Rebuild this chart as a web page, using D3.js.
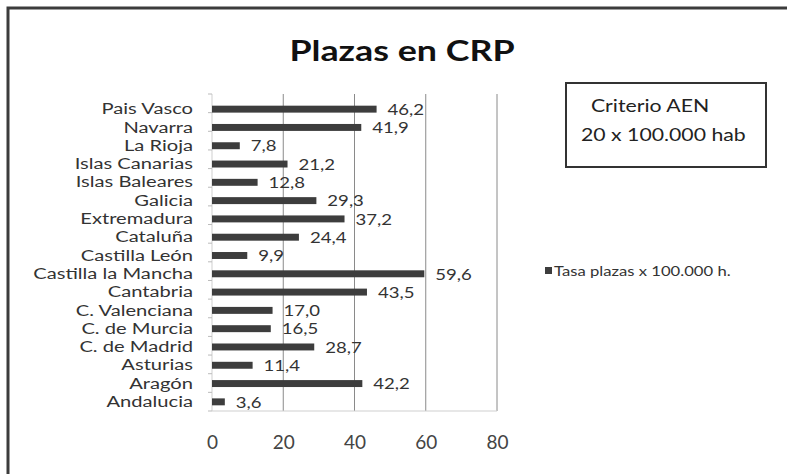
<!DOCTYPE html>
<html lang="es">
<head>
<meta charset="UTF-8">
<title>Plazas en CRP</title>
<script src="https://d3js.org/d3.v7.min.js"></script>
<style>
  body { margin: 0; background: #fff; }
  svg { display: block; font-family: Lato, "Open Sans", sans-serif; }
</style>
</head>
<body>
<script>
// datos
const regions = ["Pais Vasco", "Navarra", "La Rioja", "Islas Canarias", "Islas Baleares",
  "Galicia", "Extremadura", "Cataluña", "Castilla León", "Castilla la Mancha", "Cantabria",
  "C. Valenciana", "C. de Murcia", "C. de Madrid", "Asturias", "Aragón", "Andalucia"];
const rates = [46.2, 41.9, 7.8, 21.2, 12.8, 29.3, 37.2, 24.4, 9.9, 59.6, 43.5,
  17.0, 16.5, 28.7, 11.4, 42.2, 3.6];
const xTicks = [0, 20, 40, 60, 80];
const seriesName = "Tasa plazas x 100.000 h.";
const noteLines = ["Criterio AEN", "20 x 100.000 hab"];

const width = 787, height = 474;
const plot = { left: 212, right: 497, top: 100, bottom: 411 };

const svg = d3.select("body").append("svg")
  .attr("width", width).attr("height", height);

// texto estirado en horizontal (la imagen original está ensanchada)
function stretch(sel, sx) {
  sel.each(function () {
    const t = d3.select(this);
    const x0 = +t.attr("x") || 0;
    t.attr("x", x0 / sx).attr("transform", `scale(${sx},1)`);
  });
}

// marco exterior
svg.append("path")
  .attr("d", `M8,${height} V8 H${width}`)
  .attr("fill", "none").attr("stroke", "#3c3c3c").attr("stroke-width", 3);

// título
svg.append("text")
  .attr("x", 402).attr("y", 61)
  .attr("text-anchor", "middle")
  .attr("font-size", 28).attr("font-weight", "bold").attr("fill", "#111")
  .text("Plazas en CRP")
  .call(stretch, 1.28);

const x = d3.scaleLinear().domain([0, 80]).range([plot.left, plot.right]);
const y = d3.scaleBand().domain(regions).range([plot.top, plot.bottom]).paddingInner(0.62).paddingOuter(0.31);

// rejilla
svg.append("g").selectAll("line")
  .data(xTicks.slice(1))
  .join("line")
  .attr("x1", d => x(d)).attr("x2", d => x(d))
  .attr("y1", plot.top - 6).attr("y2", plot.bottom)
  .attr("stroke", "#8a8a8a").attr("stroke-width", 1);

// ejes (líneas)
svg.append("line")
  .attr("x1", plot.left).attr("x2", plot.right)
  .attr("y1", plot.bottom).attr("y2", plot.bottom)
  .attr("stroke", "#cfcfcf");
svg.append("line")
  .attr("x1", plot.left).attr("x2", plot.left)
  .attr("y1", plot.top - 6).attr("y2", plot.bottom)
  .attr("stroke", "#cfcfcf");

// marcas entre categorías
const tickStep = (plot.bottom - plot.top + 6) / regions.length;
svg.append("g").selectAll("line")
  .data(d3.range(regions.length + 1))
  .join("line")
  .attr("x1", plot.left - 4).attr("x2", plot.left)
  .attr("y1", i => plot.top - 6 + i * tickStep)
  .attr("y2", i => plot.top - 6 + i * tickStep)
  .attr("stroke", "#bbb");

// etiquetas eje X
const xAxis = svg.append("g")
  .attr("transform", `translate(0,${plot.bottom})`)
  .call(d3.axisBottom(x).tickValues(xTicks).tickSize(0).tickPadding(25).tickFormat(d3.format("d")));
xAxis.select(".domain").remove();
xAxis.selectAll("text")
  .attr("font-size", 19).attr("fill", "#444")
  .attr("font-family", "Lato, 'Open Sans', sans-serif");

// etiquetas de categorías
const yAxis = svg.append("g")
  .attr("transform", `translate(${plot.left},0)`)
  .call(d3.axisLeft(y).tickSize(0).tickPadding(19));
yAxis.select(".domain").remove();
yAxis.selectAll("text")
  .attr("font-size", 16).attr("fill", "#333")
  .attr("font-family", "Lato, 'Open Sans', sans-serif")
  .call(stretch, 1.26);

// barras
svg.append("g").selectAll("rect")
  .data(regions)
  .join("rect")
  .attr("x", x(0))
  .attr("y", d => y(d))
  .attr("width", (d, i) => x(rates[i]) - x(0))
  .attr("height", y.bandwidth())
  .attr("fill", "#3d3d3d");

// valores
const fmt = v => v.toFixed(1).replace(".", ",");
svg.append("g").selectAll("text")
  .data(regions)
  .join("text")
  .attr("x", (d, i) => x(rates[i]) + 11)
  .attr("y", d => y(d) + y.bandwidth() / 2)
  .attr("dy", "0.36em")
  .attr("font-size", 16).attr("fill", "#333")
  .text((d, i) => fmt(rates[i]))
  .call(stretch, 1.16);

// leyenda
svg.append("rect")
  .attr("x", 545).attr("y", 267).attr("width", 7).attr("height", 7)
  .attr("fill", "#3d3d3d");
svg.append("text")
  .attr("x", 554).attr("y", 271).attr("dy", "0.38em")
  .attr("font-size", 14).attr("fill", "#333")
  .text(seriesName)
  .call(stretch, 1.19);

// recuadro criterio
svg.append("rect")
  .attr("x", 566).attr("y", 83).attr("width", 200).attr("height", 84)
  .attr("fill", "#fff").attr("stroke", "#333").attr("stroke-width", 2);
svg.append("g").selectAll("text")
  .data(noteLines)
  .join("text")
  .attr("x", (d, i) => i === 0 ? 591 : 581)
  .attr("y", (d, i) => 106 + i * 29)
  .attr("dy", "0.38em")
  .attr("font-size", 17).attr("fill", "#222")
  .text(d => d)
  .call(stretch, 1.25);
</script>
</body>
</html>
